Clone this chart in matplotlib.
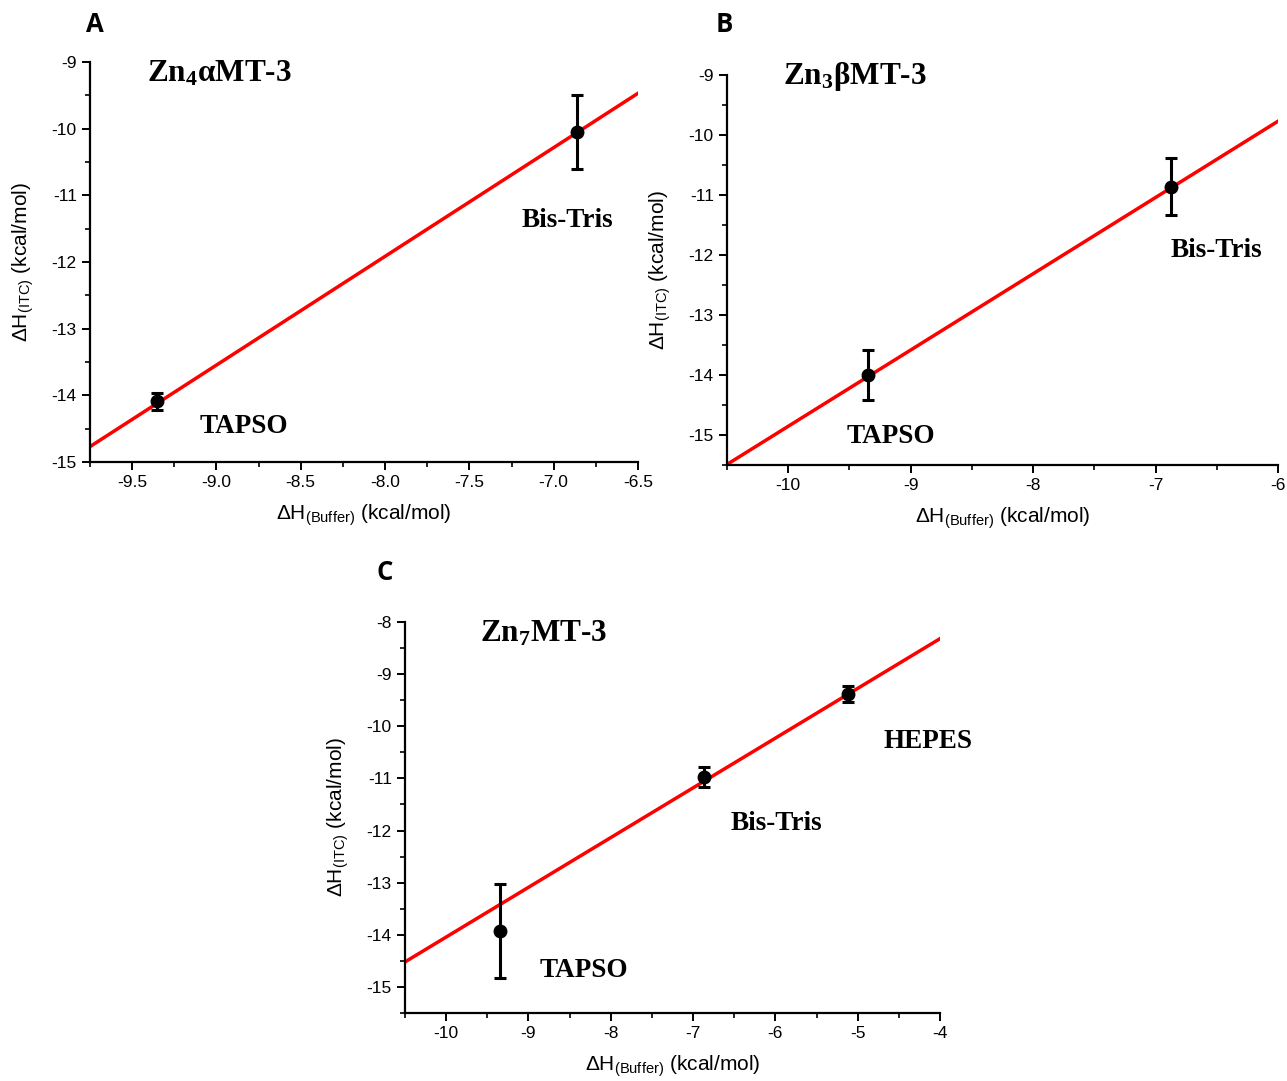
import numpy as np
import matplotlib
matplotlib.use("Agg")
import matplotlib.pyplot as plt
from matplotlib.ticker import MultipleLocator, FormatStrFormatter

plt.rcParams['font.family'] = ['Liberation Sans', 'DejaVu Sans']
plt.rcParams['mathtext.default'] = 'regular'
plt.rcParams['axes.unicode_minus'] = False

# buffer ionization enthalpies (x) and measured ITC enthalpies (y), kcal/mol
buffers_A = ["TAPSO", "Bis-Tris"]
x_A = [-9.35, -6.86]
y_A = [-14.09, -10.05]
err_A = [0.13, 0.56]
fit_A = (1.631, 1.133)   # slope, intercept

buffers_B = ["TAPSO", "Bis-Tris"]
x_B = [-9.35, -6.87]
y_B = [-14.00, -10.86]
err_B = [0.42, 0.48]
fit_B = (1.271, -2.144)

buffers_C = ["TAPSO", "Bis-Tris", "HEPES"]
x_C = [-9.34, -6.87, -5.12]
y_C = [-13.92, -10.97, -9.38]
err_C = [0.90, 0.19, 0.16]
fit_C = (0.954, -4.503)

titles = ["Zn$_4$αMT-3", "Zn$_3$βMT-3", "Zn$_7$MT-3"]

fig = plt.figure(figsize=(12.87, 10.81), dpi=100)

def panel(rect, x, y, err, fit, xlim, ylim, xmaj, xmin, ymaj, xfmt, title, title_pos, labels, label_pos):
    ax = fig.add_axes(rect)
    xs = np.array(xlim)
    ax.plot(xs, fit[0]*xs + fit[1], color='red', lw=2.5, zorder=2)
    ax.errorbar(x, y, yerr=err, fmt='o', color='black', ms=9, elinewidth=2.2,
                capsize=4, capthick=2.2, zorder=3)
    ax.set_xlim(xlim)
    ax.set_ylim(ylim)
    ax.spines['top'].set_visible(False)
    ax.spines['right'].set_visible(False)
    for s in ['left', 'bottom']:
        ax.spines[s].set_linewidth(1.6)
    ax.xaxis.set_major_locator(MultipleLocator(xmaj))
    ax.xaxis.set_minor_locator(MultipleLocator(xmin))
    ax.yaxis.set_major_locator(MultipleLocator(ymaj))
    ax.yaxis.set_minor_locator(MultipleLocator(0.5))
    ax.xaxis.set_major_formatter(FormatStrFormatter(xfmt))
    ax.yaxis.set_major_formatter(FormatStrFormatter('%d'))
    ax.tick_params(which='major', direction='out', length=6, width=1.4, labelsize=12.5)
    ax.tick_params(which='minor', direction='out', length=3.5, width=1.2)
    ax.set_xlabel('ΔH$_{(Buffer)}$ (kcal/mol)', fontsize=15, labelpad=9)
    ax.set_ylabel('ΔH$_{(ITC)}$ (kcal/mol)', fontsize=15, labelpad=11)
    ax.text(title_pos[0], title_pos[1], title, transform=ax.transAxes,
            family='Liberation Serif', fontweight='bold', fontsize=22.5, va='center')
    for lab, pos in zip(labels, label_pos):
        ax.text(pos[0], pos[1], lab, family='Liberation Serif', fontweight='bold',
                fontsize=19.5, va='center')
    return ax

panel([0.0699, 0.5726, 0.4258, 0.370], x_A, y_A, err_A, fit_A,
      (-9.75, -6.5), (-15, -9), 0.5, 0.25, 1, '%.1f',
      titles[0], (0.104, 0.97), buffers_A, [(-9.10, -14.47), (-7.19, -11.37)])

panel([0.5649, 0.5698, 0.4281, 0.3608], x_B, y_B, err_B, fit_B,
      (-10.5, -6), (-15.5, -9), 1, 0.5, 1, '%d',
      titles[1], (0.102, 0.995), buffers_B, [(-9.52, -15.02), (-6.88, -11.92)])

panel([0.3147, 0.0629, 0.4157, 0.3617], x_C, y_C, err_C, fit_C,
      (-10.5, -4), (-15.5, -8), 1, 0.5, 1, '%d',
      titles[2], (0.14, 0.969), buffers_C, [(-8.87, -14.69), (-6.54, -11.87), (-4.69, -10.30)])

for letter, px, py in [("A", 95, 25), ("B", 724, 25), ("C", 385, 572)]:
    fig.text(px/1287, 1 - py/1081, letter, family='Open Sans', fontweight='bold',
             fontsize=18.5, va='center', ha='center')

fig.savefig('out.png', dpi=100)
